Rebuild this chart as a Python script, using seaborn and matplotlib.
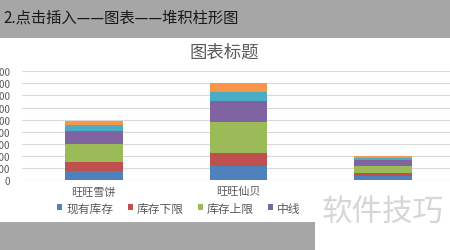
import numpy as np
import pandas as pd
import matplotlib
matplotlib.use("Agg")
import matplotlib.pyplot as plt
from matplotlib.patches import Rectangle, Patch
import seaborn as sns

# ---- data ----
categories = ["旺旺雪饼", "旺旺仙贝", ""]
series_names = ["现有库存", "库存下限", "库存上限", "中线", "系列5", "系列6"]
s_stock = [150, 230, 60]
s_low = [150, 215, 56]
s_high = [300, 510, 120]
s_mid = [215, 345, 100]
s_5 = [100, 155, 28]
s_6 = [65, 150, 33]
y_ticks = [0, 200, 400, 600, 800, 1000, 1200, 1400, 1600, 1800]
header_text = "2.点击插入——图表——堆积柱形图"
chart_title = "图表标题"
watermark = "软件技巧"

colors = ["#4F81BD", "#C0504D", "#9BBB59", "#8064A2", "#4BACC6", "#F79646"]

sns.set_theme(style="white")
plt.rcParams["font.family"] = ["Noto Sans CJK SC", "DejaVu Sans"]

W, H = 450, 251
fig = plt.figure(figsize=(W / 100, H / 100), dpi=100)
fig.patch.set_facecolor("white")

def fx(x):
    return x / W

def fy(y):
    return 1 - y / H

# axes: x 21.5..455.5 px, y 72.3..181 px
ax = fig.add_axes([fx(21.5), fy(181), (455.5 - 21.5) / W, (181 - 72.3) / H])
ax.set_facecolor("white")

series = [s_stock, s_low, s_high, s_mid, s_5, s_6]
cum = np.cumsum(np.array(series), axis=0)

for i in reversed(range(len(series))):
    df = pd.DataFrame({"类别": categories, "值": cum[i]})
    sns.barplot(data=df, x="类别", y="值", order=categories, color=colors[i],
                saturation=1, width=0.4, ax=ax, zorder=3, linewidth=0)

ax.set_ylim(0, 1800)
ax.set_xlim(-0.5, 2.5)
ax.set_yticks(y_ticks)
ax.set_yticklabels([str(v) for v in y_ticks])
ax.yaxis.grid(True, color="#d9d9d9", linewidth=0.8, zorder=0)
ax.set_axisbelow(True)
for s in ax.spines.values():
    s.set_visible(False)
ax.axhline(0, color="#d9d9d9", linewidth=0.8, zorder=2)
ax.tick_params(axis="y", length=0, pad=8, labelsize=7, labelcolor="#595959")
ax.tick_params(axis="x", length=0, pad=4.5, labelsize=8, labelcolor="#595959")
ax.set_xlabel("")
ax.set_ylabel("")

# title
fig.text(fx(224), fy(53), chart_title, ha="center", va="center",
         fontsize=12.5, color="#595959")

# legend (first four visible)
handles = [Patch(facecolor=colors[i], edgecolor="none") for i in range(4)]
fig.legend(handles=handles, labels=series_names[:4], ncol=4, loc="center",
           bbox_to_anchor=(fx(179), fy(209)), frameon=False, fontsize=8.5,
           handlelength=0.42, handleheight=0.42, handletextpad=0.35,
           columnspacing=1.2, labelcolor="#595959", borderpad=0)

# header gray band
fig.add_artist(Rectangle((0, fy(38.5)), 1, 38.5 / H, transform=fig.transFigure,
                         facecolor="#a6a6a6", edgecolor="none", zorder=10))
fig.text(fx(3), fy(18), header_text, ha="left", va="center", fontsize=11,
         color="#1a1a1a", zorder=11)

# white cover for watermark area
fig.add_artist(Rectangle((fx(315), 0), 1 - fx(315), fy(196), transform=fig.transFigure,
                         facecolor="white", edgecolor="none", zorder=10))
# bottom gray band
fig.add_artist(Rectangle((0, 0), fx(315), fy(222.5), transform=fig.transFigure,
                         facecolor="#a6a6a6", edgecolor="none", zorder=10))
fig.text(fx(383), fy(213), watermark, ha="center", va="center", fontsize=22,
         color="#d6d6d6", zorder=11)

fig.savefig("out.png", dpi=100, facecolor="white")
